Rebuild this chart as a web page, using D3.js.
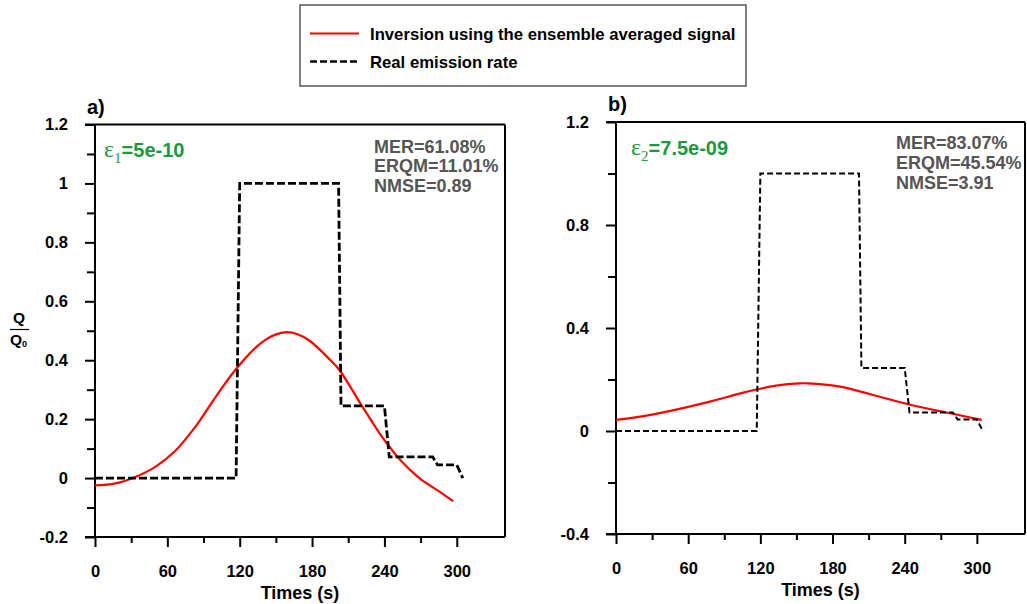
<!DOCTYPE html>
<html>
<head>
<meta charset="utf-8">
<script src="https://cdn.jsdelivr.net/npm/d3@7"></script>
<style>
  html, body { margin: 0; padding: 0; background: #fff; }
  svg { display: block; }
  text { font-family: "Liberation Sans", Arial, Helvetica, sans-serif; font-weight: bold; }
</style>
</head>
<body>
<svg id="chart" width="1027" height="604"></svg>
<script>
// Real (step) emission rate, normalised Q/Q0, shared by both panels
const realTimes = [0, 117, 120, 202, 204, 240, 244, 280, 284, 300, 305];
const realRate  = [0, 0, 1, 1, 0.245, 0.245, 0.072, 0.072, 0.045, 0.045, 0];

// Inversion with epsilon_1 = 5e-10
const invATimes = [0, 17, 33, 50, 66, 83, 99, 116, 133, 141, 149, 159, 168, 178, 195, 203, 220, 236, 245, 253, 269, 286, 297];
const invARate  = [-0.025, -0.018, 0.003, 0.038, 0.090, 0.173, 0.269, 0.365, 0.442, 0.468, 0.486, 0.495, 0.488, 0.466, 0.401, 0.365, 0.254, 0.152, 0.102, 0.062, 0.000, -0.047, -0.078];

// Inversion with epsilon_2 = 7.5e-09
const invBTimes = [0, 23, 50, 78, 105, 118, 133, 152, 160, 185, 213, 243, 268, 282, 304];
const invBRate  = [0.043, 0.058, 0.083, 0.114, 0.148, 0.162, 0.176, 0.185, 0.185, 0.173, 0.141, 0.104, 0.078, 0.065, 0.043];

// Axis ticks
const xMajorTicks = [0, 60, 120, 180, 240, 300];
const xMinorTicks = [30, 90, 150, 210, 270];
const yMajorA = [-0.2, 0, 0.2, 0.4, 0.6, 0.8, 1, 1.2];
const yMinorA = [-0.1, 0.1, 0.3, 0.5, 0.7, 0.9, 1.1];
const yMajorB = [-0.4, 0, 0.4, 0.8, 1.2];
const yMinorB = [-0.2, 0.2, 0.6, 1.0];

// Text annotations
const statsA = ["MER=61.08%", "ERQM=11.01%", "NMSE=0.89"];
const statsB = ["MER=83.07%", "ERQM=45.54%", "NMSE=3.91"];
const legendLabels = ["Inversion using the ensemble averaged signal", "Real emission rate"];

const svg = d3.select("#chart");
svg.append("rect").attr("width", 1027).attr("height", 604).attr("fill", "#fff");

const GREEN = "#1a9a3e", GRAY = "#555555", RED = "#ff0000";

function fmt(v) { return String(+v.toFixed(2)); }

function panel(cfg) {
  const x = d3.scaleLinear().domain([0, 340]).range([cfg.left, cfg.right]);
  const y = d3.scaleLinear().domain(cfg.yDomain).range([cfg.bottom, cfg.top]);
  const g = svg.append("g");

  // frame
  const frame = g.append("g").attr("stroke", "#000").attr("stroke-width", 2).attr("fill", "none");
  frame.append("line").attr("x1", cfg.left - 10).attr("x2", cfg.right).attr("y1", cfg.top).attr("y2", cfg.top);
  frame.append("line").attr("x1", cfg.left - 10).attr("x2", cfg.right).attr("y1", cfg.bottom).attr("y2", cfg.bottom);
  frame.append("line").attr("x1", cfg.left).attr("x2", cfg.left).attr("y1", cfg.top).attr("y2", cfg.bottom);
  frame.append("line").attr("x1", cfg.right).attr("x2", cfg.right).attr("y1", cfg.top).attr("y2", cfg.bottom);

  // x axis
  const xAx = g.append("g").attr("transform", `translate(0,${cfg.bottom})`)
    .call(d3.axisBottom(x).tickValues(xMajorTicks).tickSize(10).tickPadding(18).tickFormat(d3.format("d")));
  const xMin = g.append("g").attr("transform", `translate(0,${cfg.bottom})`)
    .call(d3.axisBottom(x).tickValues(xMinorTicks).tickSize(6).tickFormat(""));
  // y axis
  const yAx = g.append("g").attr("transform", `translate(${cfg.left},0)`)
    .call(d3.axisLeft(y).tickValues(cfg.yMajor).tickSize(10).tickPadding(17).tickFormat(fmt));
  const yMin = g.append("g").attr("transform", `translate(${cfg.left},0)`)
    .call(d3.axisLeft(y).tickValues(cfg.yMinor).tickSize(8).tickFormat(""));
  [xAx, xMin, yAx, yMin].forEach(a => {
    a.select(".domain").remove();
    a.selectAll(".tick line").attr("stroke", "#000").attr("stroke-width", 2);
    a.selectAll(".tick text").attr("fill", "#000").attr("font-size", 16.5)
      .attr("font-family", "Liberation Sans, Arial, sans-serif").attr("font-weight", "bold");
  });

  g.append("text").attr("x", (cfg.left + cfg.right) / 2).attr("y", cfg.bottom + 62)
    .attr("text-anchor", "middle").attr("font-size", 18).text("Times (s)");

  // series
  const line = d3.line().x(d => x(d[0])).y(d => y(d[1]));
  const smooth = d3.line().curve(d3.curveCatmullRom.alpha(0.5)).x(d => x(d[0])).y(d => y(d[1]));
  g.append("path").datum(d3.zip(cfg.invT, cfg.invV)).attr("d", smooth)
    .attr("fill", "none").attr("stroke", RED).attr("stroke-width", 2.2);
  g.append("path").datum(d3.zip(realTimes, realRate)).attr("d", line)
    .attr("fill", "none").attr("stroke", "#000").attr("stroke-width", cfg.dashWidth)
    .attr("stroke-dasharray", cfg.dash);

  // panel letter
  g.append("text").attr("x", cfg.left - 8).attr("y", cfg.top - 11).attr("font-size", 20).text(cfg.letter);

  // epsilon label
  const eps = g.append("text").attr("x", cfg.epsX).attr("y", cfg.epsY).attr("fill", GREEN).attr("font-size", 20);
  eps.append("tspan").attr("font-family", "Liberation Serif, Times New Roman, serif").attr("font-weight", "normal")
    .attr("font-size", 24).text("ε");
  eps.append("tspan").attr("font-family", "Liberation Serif, Times New Roman, serif").attr("font-weight", "normal")
    .attr("font-size", 15).attr("dy", 6).text(cfg.epsSub);
  eps.append("tspan").attr("dy", -6).text(cfg.epsVal);

  // statistics
  const st = g.append("text").attr("fill", GRAY).attr("font-size", 18);
  cfg.stats.forEach((s, i) => {
    st.append("tspan").attr("x", cfg.statX).attr("y", cfg.statY + i * cfg.statDy).text(s);
  });
  return { x, y };
}

panel({
  left: 95, right: 505, top: 124.5, bottom: 537,
  yDomain: [-0.2, 1.2], yMajor: yMajorA, yMinor: yMinorA,
  invT: invATimes, invV: invARate, dash: "8,3", dashWidth: 2.8,
  letter: "a)", epsX: 104, epsY: 157, epsSub: "1", epsVal: "=5e-10",
  stats: statsA, statX: 374, statY: 153, statDy: 19.3
});

panel({
  left: 616, right: 1025, top: 122, bottom: 534,
  yDomain: [-0.4, 1.2], yMajor: yMajorB, yMinor: yMinorB,
  invT: invBTimes, invV: invBRate, dash: "6,3", dashWidth: 2,
  letter: "b)", epsX: 631, epsY: 155, epsSub: "2", epsVal: "=7.5e-09",
  stats: statsB, statX: 896, statY: 148.5, statDy: 20.3
});

// y-axis title Q / Q0
const yt = svg.append("g");
yt.append("text").attr("x", 19).attr("y", 323).attr("text-anchor", "middle").attr("font-size", 15.5).text("Q");
yt.append("line").attr("x1", 10).attr("x2", 29).attr("y1", 329.5).attr("y2", 329.5).attr("stroke", "#000").attr("stroke-width", 1.2);
const q0 = yt.append("text").attr("x", 10).attr("y", 345).attr("font-size", 15.5);
q0.append("tspan").text("Q");
q0.append("tspan").attr("font-size", 9).attr("dy", 2).text("0");

// legend
const lg = svg.append("g");
lg.append("rect").attr("x", 300).attr("y", 5).attr("width", 446).attr("height", 81)
  .attr("fill", "#fff").attr("stroke", "#555").attr("stroke-width", 1.5);
lg.append("line").attr("x1", 310).attr("x2", 359).attr("y1", 33.5).attr("y2", 33.5)
  .attr("stroke", RED).attr("stroke-width", 2);
lg.append("line").attr("x1", 310).attr("x2", 359).attr("y1", 61.5).attr("y2", 61.5)
  .attr("stroke", "#000").attr("stroke-width", 2.6).attr("stroke-dasharray", "7,3");
legendLabels.forEach((t, i) => {
  lg.append("text").attr("x", 370).attr("y", 40 + i * 28).attr("font-size", 16.7).attr("fill", "#000").text(t);
});
</script>
</body>
</html>
